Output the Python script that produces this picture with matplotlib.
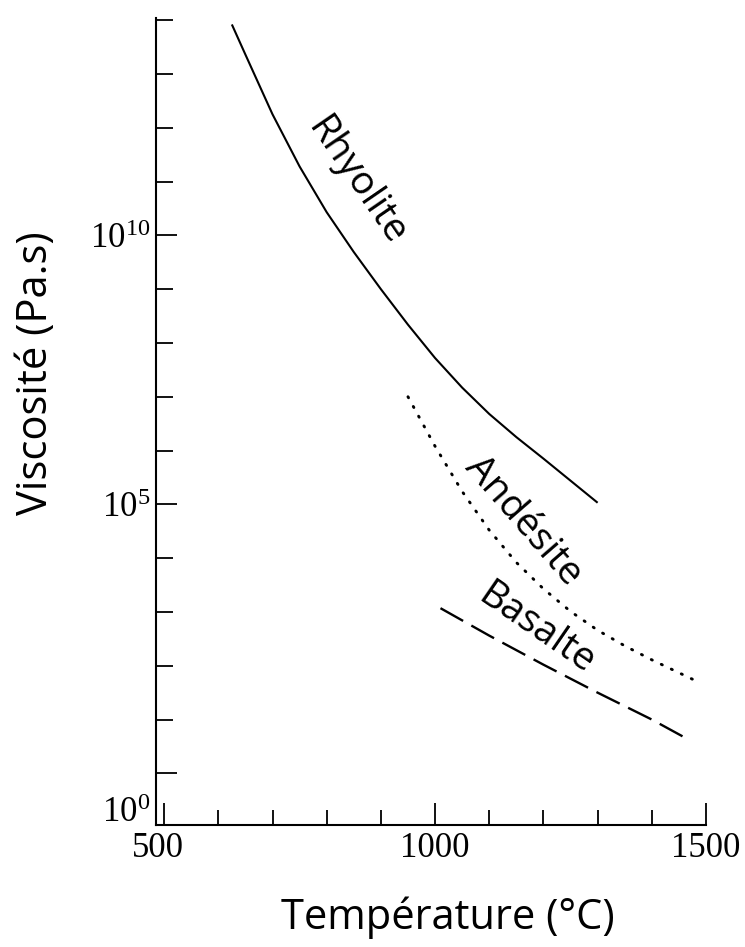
import matplotlib
matplotlib.use("Agg")
import matplotlib.pyplot as plt
import numpy as np
from matplotlib.ticker import FixedLocator, NullFormatter
from matplotlib.transforms import ScaledTranslation

# viscosity curves: temperature (degC) and log10(viscosity in Pa.s)
rhyolite_t = [625, 650, 700, 750, 800, 850, 900, 950, 1000, 1050, 1100, 1150, 1200, 1250, 1300]
rhyolite_log = [13.92, 13.36, 12.25, 11.28, 10.43, 9.69, 9.0, 8.34, 7.72, 7.17, 6.68, 6.25, 5.85, 5.44, 5.03]

andesite_t = [950, 1000, 1050, 1100, 1150, 1200, 1250, 1300, 1350, 1400, 1475]
andesite_log = [7.0, 6.08, 5.24, 4.52, 3.92, 3.43, 3.01, 2.66, 2.37, 2.11, 1.75]

basalt_t = [1010, 1100, 1200, 1300, 1400, 1460]
basalt_log = [3.07, 2.56, 2.02, 1.5, 1.0, 0.67]

x_ticks = [500, 1000, 1500]
x_minor = [600, 700, 800, 900, 1100, 1200, 1300, 1400]
y_major = [0, 5, 10]
y_minor = [1, 2, 3, 4, 6, 7, 8, 9, 11, 12, 13, 14]

sans = ["Open Sans", "DejaVu Sans"]
serif = ["Liberation Serif", "DejaVu Serif"]

fig = plt.figure(figsize=(7.45, 9.47), dpi=100)
ax = fig.add_axes([156 / 745, 1 - 825 / 947, 550 / 745, 807 / 947])

ax.plot(rhyolite_t, 10.0 ** np.array(rhyolite_log), color="black", lw=1.5, solid_capstyle="butt")
ax.plot(andesite_t, 10.0 ** np.array(andesite_log), color="black", lw=2.1,
        linestyle=(0, (0.4, 3.4)), dash_capstyle="round")
ax.plot(basalt_t, 10.0 ** np.array(basalt_log), color="black", lw=1.7,
        linestyle=(0, (11, 4.0)), dash_capstyle="butt")

ax.set_yscale("log")
ax.set_xlim(485, 1500)
ax.set_ylim(10 ** -0.96, 10 ** 14.04)

# only left and bottom axes, ticks pointing inwards
for side in ("top", "right"):
    ax.spines[side].set_visible(False)
for side in ("left", "bottom"):
    ax.spines[side].set_linewidth(1.5)

ax.xaxis.set_major_locator(FixedLocator(x_ticks))
ax.xaxis.set_minor_locator(FixedLocator(x_minor))
ax.yaxis.set_major_locator(FixedLocator([10.0 ** k for k in y_major]))
ax.yaxis.set_minor_locator(FixedLocator([10.0 ** k for k in y_minor]))
ax.yaxis.set_minor_formatter(NullFormatter())
ax.set_xticklabels([str(v) for v in x_ticks], family=serif, fontsize=25)
ax.set_yticklabels([r"$\mathregular{10^{%d}}$" % k for k in y_major], family=serif, fontsize=25)

ax.tick_params(which="both", direction="in", width=1.3, color="black")
ax.tick_params(axis="x", which="major", length=16, pad=5)
ax.tick_params(axis="x", which="minor", length=11)
ax.tick_params(axis="y", which="major", length=15, pad=4)
ax.tick_params(axis="y", which="minor", length=12)

# the 10^0 label sits in the corner, below its tick
lab0 = ax.get_yticklabels()[0]
lab0.set_transform(lab0.get_transform() + ScaledTranslation(0, -0.36, fig.dpi_scale_trans))
lab500 = ax.get_xticklabels()[0]
lab500.set_transform(lab500.get_transform() + ScaledTranslation(-0.06, 0, fig.dpi_scale_trans))

ax.set_xlabel("Température (°C)", family=sans, fontsize=30, va="center")
ax.xaxis.set_label_coords(0.531, -0.115)
ax.set_ylabel("Viscosité (Pa.s)", family=sans, fontsize=30, va="center")
ax.yaxis.set_label_coords(-0.218, 0.56)

ax.text(854, 10 ** 11.0, "Rhyolite", family=sans, fontsize=28, rotation=-55.5,
        rotation_mode="anchor", ha="center", va="center")
ax.text(1162, 10 ** 4.69, "Andésite", family=sans, fontsize=28, rotation=-49,
        rotation_mode="anchor", ha="center", va="center")
ax.text(1186, 10 ** 2.68, "Basalte", family=sans, fontsize=28, rotation=-34.5,
        rotation_mode="anchor", ha="center", va="center")

fig.savefig("out.png", dpi=100, facecolor="white")
